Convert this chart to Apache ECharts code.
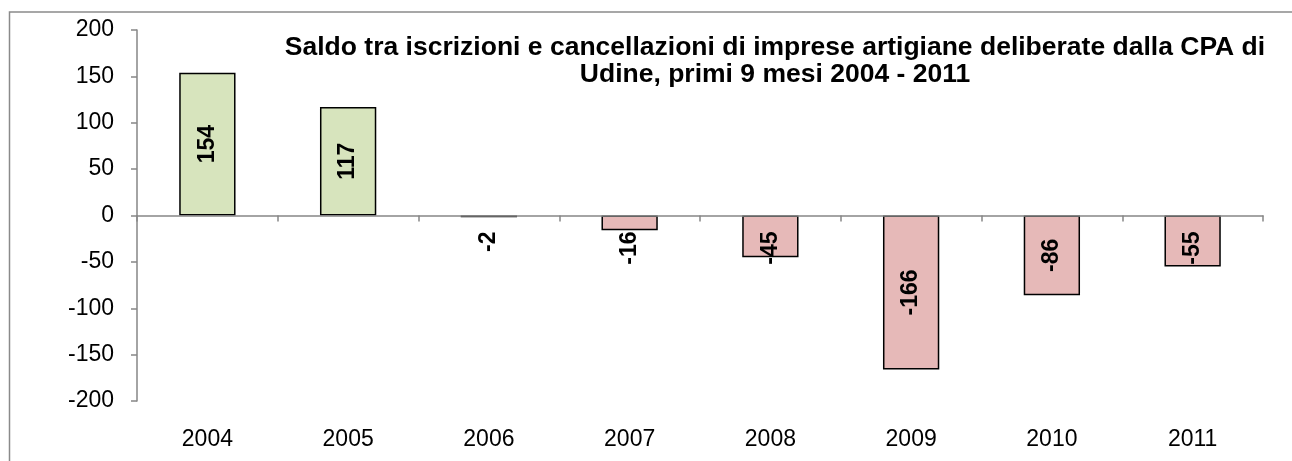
<!DOCTYPE html>
<html>
<head>
<meta charset="utf-8">
<script src="https://cdn.jsdelivr.net/npm/echarts@6/dist/echarts.min.js"></script>
<style>
  html, body { margin: 0; padding: 0; background: #fff; }
  #chart { width: 1292px; height: 461px; }
</style>
</head>
<body>
<div id="chart"></div>
<script>
// data
const years = ["2004", "2005", "2006", "2007", "2008", "2009", "2010", "2011"];
const saldo = [154, 117, -2, -16, -45, -166, -86, -55];
const yTicks = { min: -200, max: 200, step: 50 };

const FONT = "'Liberation Sans', Arial, sans-serif";

const chart = echarts.init(document.getElementById("chart"));

// short negative bars get their label pushed below the zero line, like in the original
const barData = saldo.map(function (v) {
  const item = {
    value: v,
    itemStyle: { color: v >= 0 ? "#D7E4BD" : "#E6B9B8" }
  };
  if (v < 0 && v > -60) {
    item.label = { position: ["50%", 16], align: "right", verticalAlign: "middle" };
  }
  return item;
});

const options = {
  animation: false,
  title: {
    text: "Saldo tra iscrizioni e cancellazioni di imprese artigiane deliberate dalla CPA di\nUdine, primi 9 mesi 2004 - 2011",
    left: 775,
    top: 34,
    padding: 0,
    textAlign: "center",
    textStyle: {
      fontFamily: FONT,
      fontSize: 26.5,
      fontWeight: "bold",
      color: "#000",
      lineHeight: 27
    }
  },
  graphic: [
    {
      type: "rect",
      shape: { x: 9.5, y: 12, width: 1400, height: 600 },
      style: { fill: "none", stroke: "#8a8a8a", lineWidth: 1.5 },
      silent: true
    }
  ],
  grid: { left: 137, right: 29, top: 30, bottom: 60 },
  xAxis: [
    {
      type: "category",
      data: years,
      z: 3,
      axisLine: { onZero: true, lineStyle: { color: "#868686", width: 1.5 } },
      axisTick: { show: true, length: 6, lineStyle: { color: "#868686", width: 1.5 } },
      axisLabel: { show: false }
    },
    {
      type: "category",
      data: years,
      position: "bottom",
      axisLine: { show: false, onZero: false },
      axisTick: { show: false },
      axisLabel: {
        margin: 27,
        fontFamily: FONT,
        fontSize: 23,
        color: "#000"
      }
    }
  ],
  yAxis: {
    type: "value",
    min: yTicks.min,
    max: yTicks.max,
    interval: yTicks.step,
    axisLine: { show: true, lineStyle: { color: "#868686", width: 1.5 } },
    axisTick: { show: true, length: 6, lineStyle: { color: "#868686", width: 1.5 } },
    splitLine: { show: false },
    axisLabel: {
      margin: 23,
      fontFamily: FONT,
      fontSize: 23,
      color: "#000"
    }
  },
  series: [
    {
      type: "bar",
      xAxisIndex: 0,
      data: barData,
      barWidth: "40%",
      itemStyle: { borderColor: "#000", borderWidth: 1.5 },
      label: {
        show: true,
        position: "inside",
        rotate: 90,
        fontFamily: FONT,
        fontSize: 23,
        fontWeight: "bold",
        color: "#000"
      }
    }
  ]
};

chart.setOption(options);
</script>
</body>
</html>
